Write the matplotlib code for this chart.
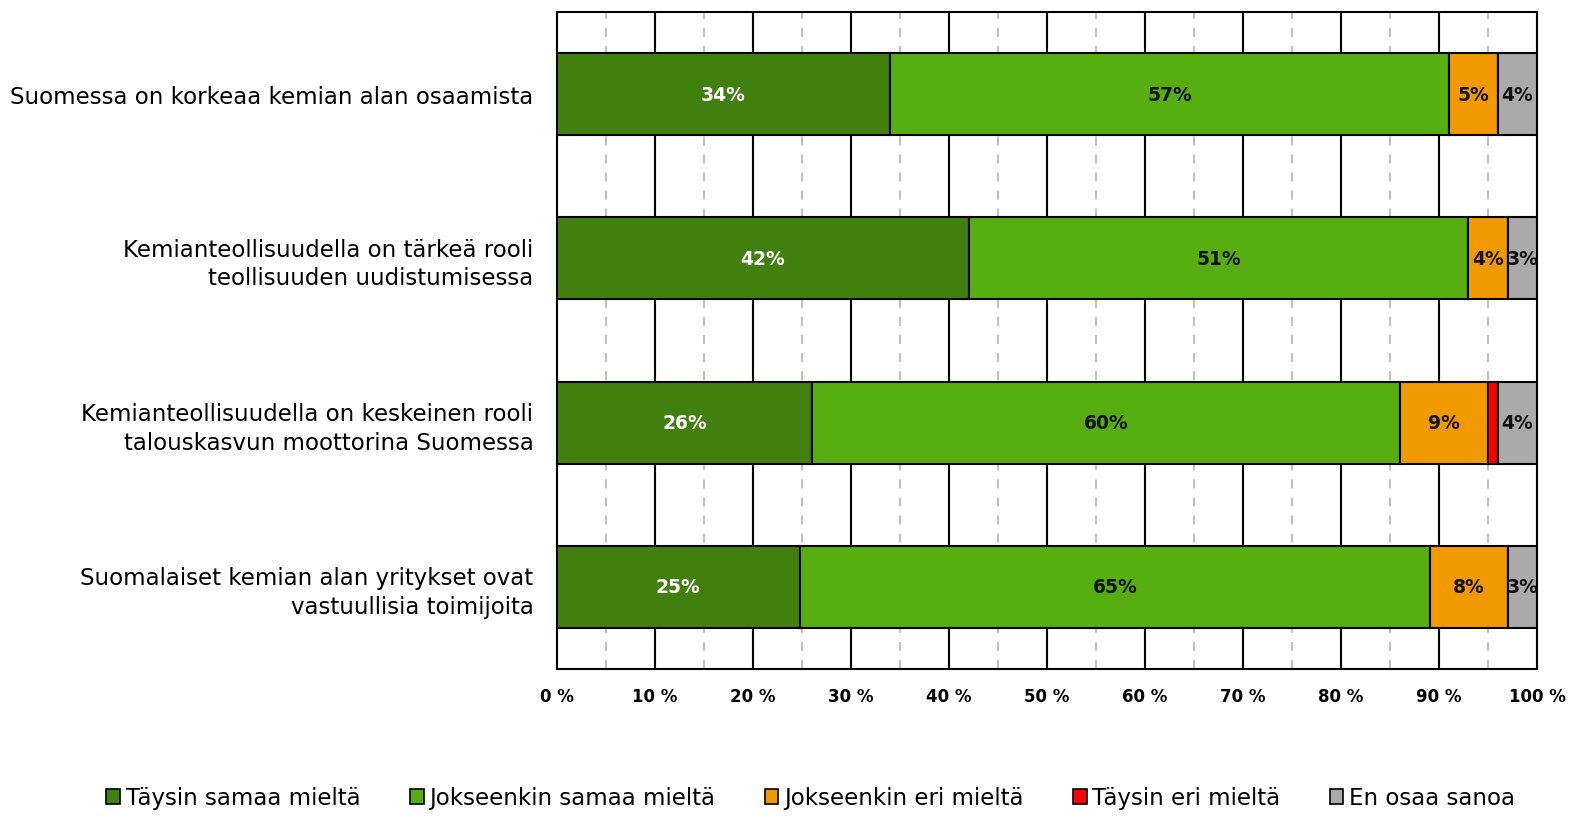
import matplotlib
matplotlib.use("Agg")
import matplotlib.pyplot as plt
import numpy as np
from matplotlib.patches import Patch

categories = [
    "Suomessa on korkeaa kemian alan osaamista",
    "Kemianteollisuudella on tärkeä rooli\nteollisuuden uudistumisessa",
    "Kemianteollisuudella on keskeinen rooli\ntalouskasvun moottorina Suomessa",
    "Suomalaiset kemian alan yritykset ovat\nvastuullisia toimijoita",
]
series_names = ["Täysin samaa mieltä", "Jokseenkin samaa mieltä",
                "Jokseenkin eri mieltä", "Täysin eri mieltä", "En osaa sanoa"]
taysin_samaa = [34, 42, 26, 25]
jokseenkin_samaa = [57, 51, 60, 65]
jokseenkin_eri = [5, 4, 9, 8]
taysin_eri = [0, 0, 1, 0]
en_osaa = [4, 3, 4, 3]
xtick_labels = ["0 %", "10 %", "20 %", "30 %", "40 %", "50 %", "60 %", "70 %", "80 %", "90 %", "100 %"]

colors = ["#41800e", "#56ae10", "#f29900", "#ff0000", "#aaaaaa"]
label_colors = ["white", "#111111", "#111111", "#111111", "#111111"]

plt.rcParams['font.family'] = ['DejaVu Sans']

fig = plt.figure(figsize=(15.96, 8.28), dpi=100)
ax = fig.add_axes([557/1596, 1 - 670/828, 980/1596, 657/828])

data = np.array([taysin_samaa, jokseenkin_samaa, jokseenkin_eri, taysin_eri, en_osaa], dtype=float)
totals = data.sum(axis=0)
pct = data / totals * 100

y = np.arange(len(categories))
left = np.zeros(len(categories))
for i in range(len(series_names)):
    ax.barh(y, pct[i], left=left, height=0.5, color=colors[i], edgecolor="black",
            linewidth=1.5, zorder=3, label=series_names[i])
    for j in range(len(categories)):
        v = data[i, j]
        if v >= 2:
            ax.text(left[j] + pct[i, j] / 2, y[j], f"{int(v)}%", ha="center", va="center",
                    color=label_colors[i], fontsize=13.5, fontweight="bold", zorder=4)
    left += pct[i]

ax.set_xlim(0, 100)
ax.set_ylim(3.5, -0.5)
for x in range(10, 100, 10):
    ax.axvline(x, color="black", linewidth=1.5, zorder=1)
for x in range(5, 100, 10):
    ax.axvline(x, color="#bbbbbb", linewidth=1.3, linestyle=(0, (5, 5)), zorder=1)

ax.set_xticks(np.arange(0, 101, 10))
ax.set_xticklabels(xtick_labels, fontsize=12, fontweight="bold")
ax.tick_params(axis="x", length=0, pad=13)
ax.set_yticks(y)
ax.set_yticklabels(categories, fontsize=16.5, linespacing=1.3)
ax.tick_params(axis="y", length=0, pad=17)
for t in ax.get_yticklabels():
    t.set_horizontalalignment("right")
for s in ax.spines.values():
    s.set_linewidth(1.5)
    s.set_color("black")

handles = [Patch(facecolor=colors[i], edgecolor="black", linewidth=1.2) for i in range(5)]
fig.legend(handles, series_names, loc="center", bbox_to_anchor=(0.508, 1 - 799/828),
           ncol=5, frameon=False, fontsize=16.5, handlelength=0.6, handleheight=0.6,
           handletextpad=0.25, columnspacing=2.15)

fig.savefig("out.png", dpi=100)
